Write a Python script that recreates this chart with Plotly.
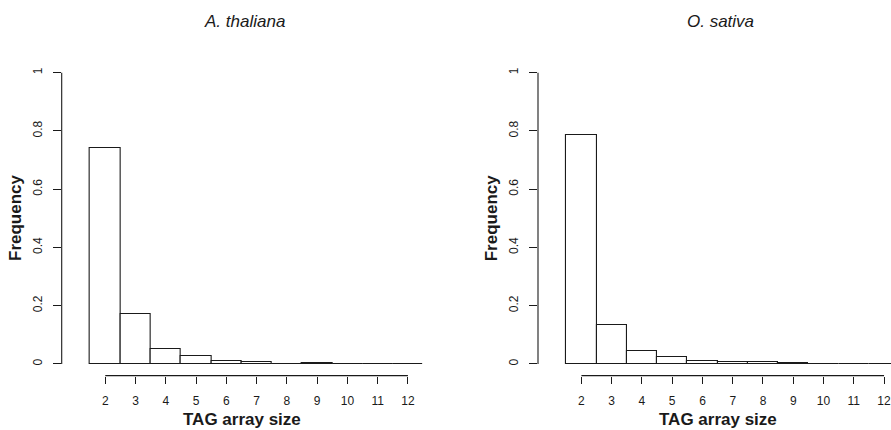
import plotly.graph_objects as go

sizes = [2, 3, 4, 5, 6, 7, 8, 9, 10, 11, 12]
thaliana_freq = [0.743, 0.171, 0.050, 0.027, 0.009, 0.005, 0.001, 0.004, 0.001, 0.001, 0.001]
sativa_freq = [0.787, 0.134, 0.046, 0.023, 0.009, 0.007, 0.005, 0.003, 0.001, 0.001, 0.001]
titles = ["A. thaliana", "O. sativa"]
y_ticks = [0, 0.2, 0.4, 0.6, 0.8, 1]
y_ticklabels = ["0", "0.2", "0.4", "0.6", "0.8", "1"]

W, H = 891, 430
FONT = "Liberation Sans"
INK = "#1a1a1a"

fig = go.Figure()

# pixel geometry of the two plot regions
panels = [
    dict(left=61.7, right=427.0, xrange=[0.56, 12.63], data=thaliana_freq),
    dict(left=538.0, right=891.0, xrange=[0.565, 12.23], data=sativa_freq),
]
top_px, bot_px = 61.0, 375.6
ydom = [1 - bot_px / H, 1 - top_px / H]

for i, p in enumerate(panels):
    n = "" if i == 0 else str(i + 1)
    fig.add_trace(go.Bar(
        x=sizes, y=p["data"], width=1,
        marker=dict(color="white", line=dict(color=INK, width=1.1)),
        xaxis="x" + n, yaxis="y" + n, showlegend=False,
    ))
    fig.update_layout(**{
        "xaxis" + n: dict(
            domain=[p["left"] / W, p["right"] / W], range=p["xrange"],
            anchor="y" + n, showgrid=False, zeroline=False, showline=False,
            tickmode="array", tickvals=sizes, ticktext=[str(s) for s in sizes],
            ticks="outside", ticklen=7, tickwidth=1, tickcolor=INK,
            tickfont=dict(family=FONT, size=12, color=INK), ticklabelstandoff=7,
            ticklabeloverflow="allow",
            automargin=False, fixedrange=True,
        ),
        "yaxis" + n: dict(
            domain=ydom, range=[-0.04, 1.04], anchor="x" + n,
            showgrid=False, zeroline=False, showline=False,
            tickmode="array", tickvals=y_ticks, ticktext=y_ticklabels,
            ticks="outside", ticklen=8, tickwidth=1, tickcolor=INK, tickangle=-90,
            tickfont=dict(family=FONT, size=12, color=INK), ticklabelstandoff=6,
            automargin=False, fixedrange=True,
        ),
    })
    # R-style axis lines
    fig.add_shape(type="line", xref="x" + n + " domain", yref="y" + n,
                  x0=0, x1=0, y0=0, y1=1, line=dict(color=INK, width=1.1))
    fig.add_shape(type="line", xref="x" + n, yref="y" + n + " domain",
                  x0=sizes[0], x1=sizes[-1], y0=0, y1=0, line=dict(color=INK, width=1.1))
    off = p["left"] - panels[0]["left"]
    fig.add_annotation(text="<i>" + titles[i] + "</i>", xref="paper", yref="paper",
                       x=(244.5 + off) / W, y=1 - 21 / H, showarrow=False,
                       font=dict(family=FONT, size=17, color=INK),
                       xanchor="center", yanchor="middle")
    fig.add_annotation(text="<b>Frequency</b>", xref="paper", yref="paper",
                       x=(15 + off) / W, y=1 - 218 / H, showarrow=False, textangle=-90,
                       font=dict(family=FONT, size=17, color=INK),
                       xanchor="center", yanchor="middle")
    fig.add_annotation(text="<b>TAG array size</b>", xref="paper", yref="paper",
                       x=(242 + off) / W, y=1 - 419 / H, showarrow=False,
                       font=dict(family=FONT, size=17, color=INK),
                       xanchor="center", yanchor="middle")

fig.update_layout(
    width=W, height=H, margin=dict(l=0, r=0, t=0, b=0),
    paper_bgcolor="white", plot_bgcolor="white", bargap=0,
)
fig.write_html("out.html")
